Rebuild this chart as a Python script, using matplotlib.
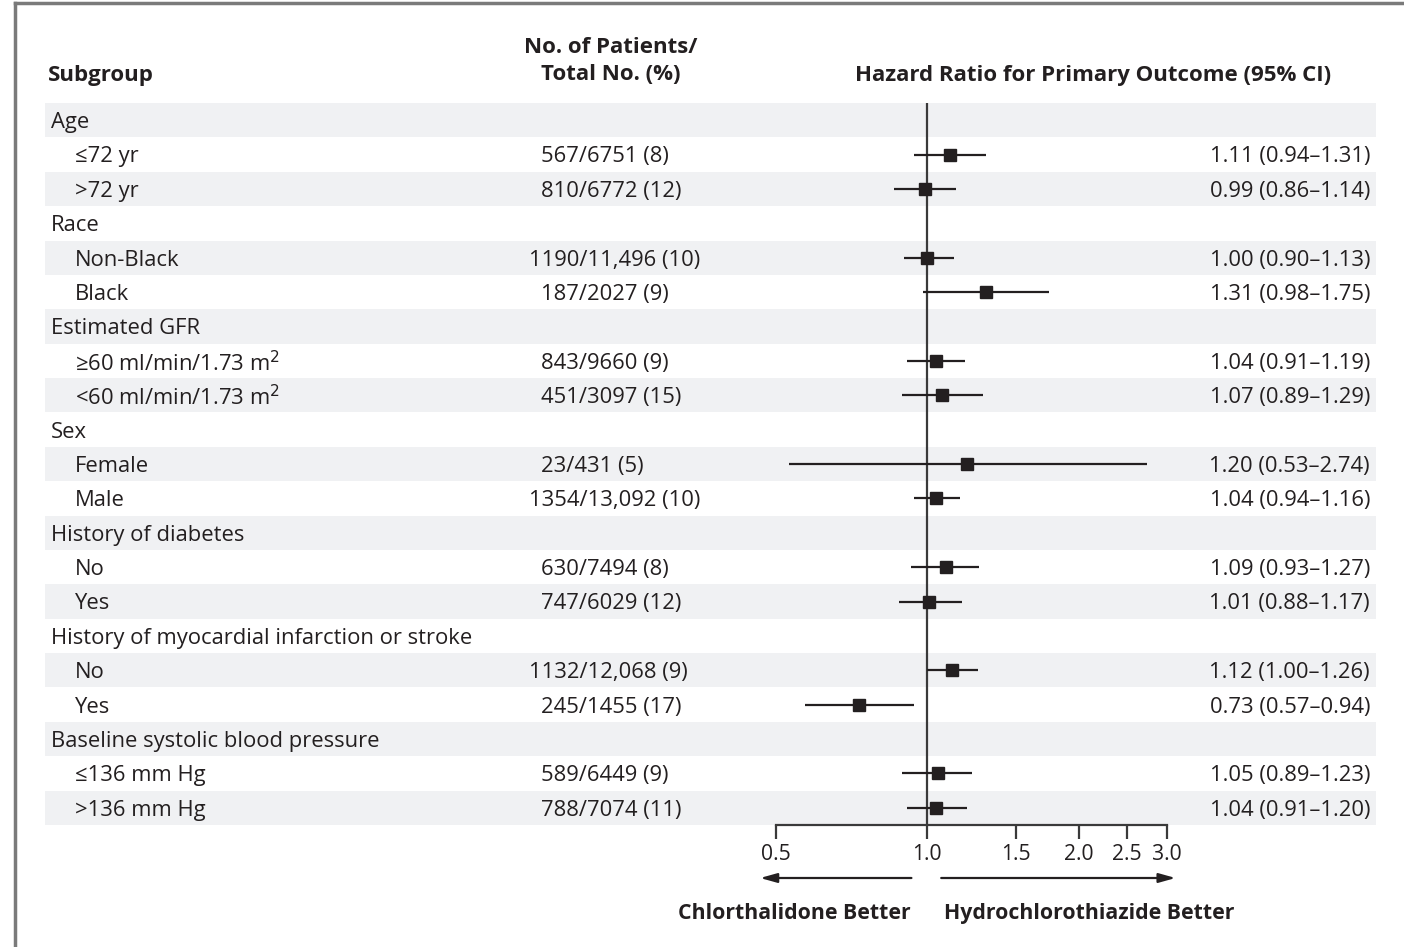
import numpy as np
import matplotlib
matplotlib.use('Agg')
import matplotlib.pyplot as plt
import matplotlib.transforms as mtransforms

plt.rcParams['font.family'] = ['Open Sans', 'DejaVu Sans']

# rows of the table, top to bottom
labels = ['Age', '\u226472 yr', '>72 yr',
          'Race', 'Non-Black', 'Black',
          'Estimated GFR', '\u226560 ml/min/1.73 m$^2$', '<60 ml/min/1.73 m$^2$',
          'Sex', 'Female', 'Male',
          'History of diabetes', 'No', 'Yes',
          'History of myocardial infarction or stroke', 'No', 'Yes',
          'Baseline systolic blood pressure', '\u2264136 mm Hg', '>136 mm Hg']
is_header = [True, False, False, True, False, False, True, False, False,
             True, False, False, True, False, False, True, False, False,
             True, False, False]
patients = [None, '567/6751 (8)', '810/6772 (12)',
            None, '1190/11,496 (10)', '187/2027 (9)',
            None, '843/9660 (9)', '451/3097 (15)',
            None, '23/431 (5)', '1354/13,092 (10)',
            None, '630/7494 (8)', '747/6029 (12)',
            None, '1132/12,068 (9)', '245/1455 (17)',
            None, '589/6449 (9)', '788/7074 (11)']
hr = [None, 1.11, 0.99, None, 1.00, 1.31, None, 1.04, 1.07, None, 1.20, 1.04,
      None, 1.09, 1.01, None, 1.12, 0.73, None, 1.05, 1.04]
lo = [None, 0.94, 0.86, None, 0.90, 0.98, None, 0.91, 0.89, None, 0.53, 0.94,
      None, 0.93, 0.88, None, 1.00, 0.57, None, 0.89, 0.91]
hi = [None, 1.31, 1.14, None, 1.13, 1.75, None, 1.19, 1.29, None, 2.74, 1.16,
      None, 1.27, 1.17, None, 1.26, 0.94, None, 1.23, 1.20]
ticks = [0.5, 1.0, 1.5, 2.0, 2.5, 3.0]

W, H = 1404, 947
txt = '#231f20'
shade = '#f0f1f3'
fs = 15.8

fig = plt.figure(figsize=(W / 100, H / 100), dpi=100)
fig.patch.set_facecolor('white')

def fx(px):
    return px / W

def fy(py):
    return 1 - py / H

ax = fig.add_axes([fx(776), fy(825), fx(1167) - fx(776), fy(103) - fy(825)])
ax.set_xscale('log')
ax.set_xlim(0.5, 3.0)
n = len(labels)
ax.set_ylim(n - 0.5, -0.5)
ax.patch.set_alpha(0)

# row striping, stretched past the axes
for i in range(n):
    if i % 2 == 0:
        ax.axhspan(i - 0.5, i + 0.5, xmin=(45 - 776) / 391, xmax=(1376 - 776) / 391,
                   color=shade, lw=0, clip_on=False, zorder=0)

ax.axvline(1.0, color='#3a3a3a', lw=1.6, zorder=2)

rows = np.arange(n)
for i in rows:
    if hr[i] is None:
        continue
    ax.plot([lo[i], hi[i]], [i, i], color=txt, lw=1.6, zorder=3, solid_capstyle='butt')
    ax.plot(hr[i], i, marker='s', ms=8.5, color=txt, zorder=4)

for s in ['left', 'top', 'right']:
    ax.spines[s].set_visible(False)
ax.spines['bottom'].set_color('#3a3a3a')
ax.spines['bottom'].set_linewidth(1.6)
ax.set_yticks([])
ax.minorticks_off()
ax.set_xticks(ticks)
ax.set_xticklabels(['%.1f' % t for t in ticks])
ax.tick_params(axis='x', direction='out', length=10, width=1.6, color='#3a3a3a',
               labelsize=15.2, labelcolor=txt, pad=4)

tr = mtransforms.blended_transform_factory(fig.transFigure, ax.transData)
dy = 0.07
for i in rows:
    if is_header[i]:
        ax.text(fx(51), i + dy, labels[i], transform=tr, fontsize=fs, color=txt,
                va='center', ha='left')
    else:
        ax.text(fx(75), i + dy, labels[i], transform=tr, fontsize=fs, color=txt,
                va='center', ha='left')
        num = patients[i].split('/')[0]
        ax.text(fx(541 - 12 * max(0, len(num) - 3)), i + dy, patients[i], transform=tr,
                fontsize=fs, color=txt, va='center', ha='left')
        ax.text(fx(1370), i + dy, '%.2f (%.2f\u2013%.2f)' % (hr[i], lo[i], hi[i]),
                transform=tr, fontsize=fs, color=txt, va='center', ha='right')

# column headers
fig.text(fx(48), fy(76), 'Subgroup', fontsize=16, weight='bold', color=txt,
         ha='left', va='center')
fig.text(fx(611), fy(61), 'No. of Patients/\nTotal No. (%)', fontsize=16,
         weight='bold', color=txt, ha='center', va='center', linespacing=1.4)
fig.text(fx(1093), fy(76), 'Hazard Ratio for Primary Outcome (95% CI)', fontsize=16,
         weight='bold', color=txt, ha='center', va='center')

# direction arrows
atr = mtransforms.blended_transform_factory(ax.transData, fig.transFigure)
ax.annotate('', xy=(0.465, fy(878)), xytext=(0.93, fy(878)), xycoords=atr,
            textcoords=atr, annotation_clip=False,
            arrowprops=dict(arrowstyle='-|>,head_length=1.0,head_width=0.28',
                            color=txt, lw=1.6, shrinkA=0, shrinkB=0))
ax.annotate('', xy=(3.12, fy(878)), xytext=(1.066, fy(878)), xycoords=atr,
            textcoords=atr, annotation_clip=False,
            arrowprops=dict(arrowstyle='-|>,head_length=1.0,head_width=0.28',
                            color=txt, lw=1.6, shrinkA=0, shrinkB=0))
fig.text(fx(911), fy(913), 'Chlorthalidone Better', fontsize=15.3, weight='bold',
         color=txt, ha='right', va='center')
fig.text(fx(944), fy(913), 'Hydrochlorothiazide Better', fontsize=15.3, weight='bold',
         color=txt, ha='left', va='center')

# frame at top and left
fig.add_artist(plt.Line2D([fx(15), fx(15)], [fy(3), 0], transform=fig.transFigure,
                          color='#7a7a7a', lw=2.5))
fig.add_artist(plt.Line2D([fx(15), 1], [fy(3), fy(3)], transform=fig.transFigure,
                          color='#7a7a7a', lw=2.5))

fig.savefig('out.png', dpi=100)
